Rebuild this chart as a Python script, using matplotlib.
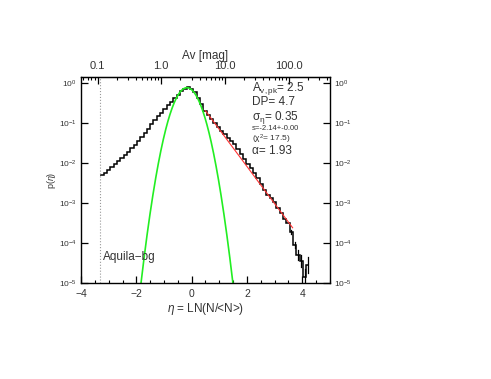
import numpy as np
import matplotlib
matplotlib.use("Agg")
import matplotlib.pyplot as plt

plt.rcParams['font.family'] = ['Liberation Sans', 'DejaVu Sans']
plt.rcParams['mathtext.fontset'] = 'custom'
plt.rcParams['mathtext.rm'] = 'Liberation Sans'
plt.rcParams['mathtext.it'] = 'Liberation Sans:italic'

# histogram of eta = ln(N/<N>), bins of 0.12 starting at -3.30
bin_start = -3.30
bin_width = 0.12
log_p = [-2.30, -2.24, -2.17, -2.10, -2.03, -1.95, -1.88, -1.80, -1.72, -1.63,
         -1.54, -1.44, -1.34, -1.24, -1.13, -1.02, -0.91, -0.82, -0.73, -0.64,
         -0.55, -0.46, -0.37, -0.28, -0.19, -0.13, -0.10, -0.13, -0.22, -0.36,
         -0.52, -0.68, -0.80, -0.90, -1.00, -1.09, -1.18, -1.27, -1.36, -1.44,
         -1.52, -1.64, -1.76, -1.90, -2.01, -2.12, -2.24, -2.37, -2.52, -2.66,
         -2.80, -2.88, -2.98, -3.12, -3.25, -3.40, -3.50, -3.72, -4.05, -4.30,
         -4.45, -4.85, -4.55]
# error bars (log10 half size) on the last noisy bins
err_idx = [57, 58, 59, 60, 61, 62]
err_log = [0.05, 0.08, 0.12, 0.15, 0.2, 0.2]

# fit parameters
av_mean = 3.0
eta_threshold = -3.3
gauss_mu, gauss_sigma, gauss_amp = -0.17, 0.35, 0.78
pl_slope, pl_norm = -2.14, 0.6
pl_range = (0.5, 3.65)

labels = ["A$_{\\rm v,pk}$= 2.5", "DP= 4.7", "\u03c3$_{\\rm \u03b7}$= 0.35",
          "s=-2.14+-0.00", "(\u03c7$^2$= 17.5)", "\u03b1= 1.93"]
label_sizes = [8.5, 8.5, 8.5, 5.5, 6, 8.5]
label_y = [0.932, 0.862, 0.793, 0.745, 0.689, 0.626]
text_color = '#333333'

fig = plt.figure(figsize=(4.91, 3.79), dpi=100)
ax = fig.add_axes([0.165, 0.253, 0.507, 0.544])

edges = bin_start + bin_width * np.arange(len(log_p) + 1)
p = 10.0 ** np.array(log_p)
ax.stairs(p, edges, color='black', lw=1.1, baseline=None)
centers = edges[:-1] + bin_width / 2
for i, e in zip(err_idx, err_log):
    ax.plot([centers[i], centers[i]], [p[i] * 10**-e, p[i] * 10**e], color='black', lw=0.9)

eta = np.linspace(-4, 5, 600)
ax.plot(eta, gauss_amp * np.exp(-(eta - gauss_mu)**2 / (2 * gauss_sigma**2)),
        color='#22ee22', lw=1.2)
eta_pl = np.linspace(pl_range[0], pl_range[1], 50)
ax.plot(eta_pl, pl_norm * np.exp(pl_slope * eta_pl), color='#ff3333', lw=0.8)

ax.axvline(eta_threshold, color='#999999', ls=':', lw=0.8)

ax.set_yscale('log')
ax.set_xlim(-4, 5)
ax.set_ylim(1e-5, 1.45)
ax.set_xticks([-4, -2, 0, 2, 4])
ax.set_xticklabels(['\u22124', '\u22122', '0', '2', '4'])
ax.set_xticks(np.arange(-4, 5.01, 0.5), minor=True)
ax.set_yticks([1e-5, 1e-4, 1e-3, 1e-2, 1e-1, 1e0])
ax.yaxis.set_minor_locator(matplotlib.ticker.NullLocator())
ax.tick_params(axis='x', which='major', direction='in', length=5, width=0.9,
               labelsize=7.5, pad=4, top=False, labelcolor=text_color)
ax.tick_params(axis='x', which='minor', direction='in', length=2.5, width=0.8, top=False)
ax.tick_params(axis='y', which='major', direction='in', length=5, width=0.9,
               labelsize=6, right=True, labelright=True, pad=3, labelcolor=text_color)
for s in ax.spines.values():
    s.set_linewidth(1.0)

sec = ax.secondary_xaxis('top', functions=(lambda e: av_mean * np.exp(e),
                                           lambda a: np.log(np.clip(a, 1e-12, None) / av_mean)))
sec.set_xticks([0.1, 1, 10, 100], labels=['0.1', '1.0', '10.0', '100.0'])
minor_av = [m * d for d in [0.01, 0.1, 1, 10, 100] for m in range(2, 10)]
minor_av = [a for a in minor_av if 0.055 < a < 445]
sec.set_xticks(minor_av, minor=True)
sec.tick_params(axis='x', which='major', direction='in', length=5, width=0.9,
                labelsize=8, pad=4, labelcolor=text_color)
sec.tick_params(axis='x', which='minor', direction='in', length=2.5, width=0.8)
sec.set_xlabel('Av [mag]', fontsize=8.5, labelpad=1.5, color=text_color)

ax.set_xlabel('$\\eta$ = LN(N/<N>)', fontsize=8.5, labelpad=2, color=text_color)
ax.set_ylabel('p($\\eta$)', fontsize=6.5, labelpad=1, color=text_color)

for txt, fs, y in zip(labels, label_sizes, label_y):
    ax.text(0.687, y, txt, transform=ax.transAxes, fontsize=fs, va='baseline',
            ha='left', color=text_color)
ax.text(0.088, 0.112, 'Aquila\u2212bg', transform=ax.transAxes, fontsize=8.5,
        va='baseline', ha='left', color=text_color)

fig.savefig('out.png', dpi=100)
